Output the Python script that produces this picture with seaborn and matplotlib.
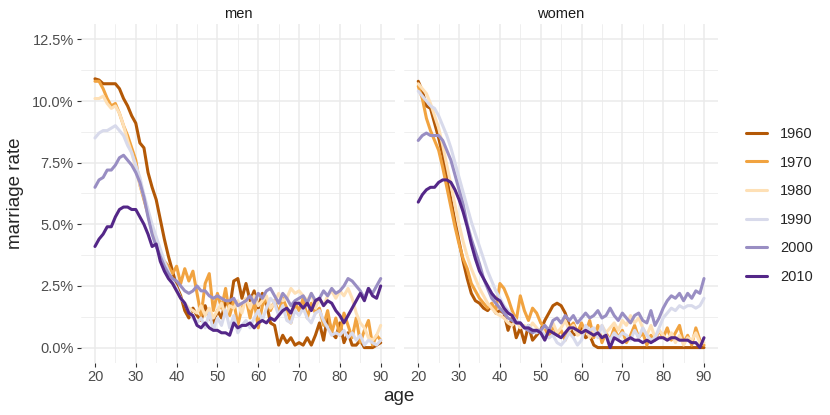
import pandas as pd
import numpy as np
import matplotlib.pyplot as plt
import seaborn as sns
from matplotlib.ticker import FuncFormatter, MultipleLocator
from matplotlib.lines import Line2D

# ----------------- data -----------------
ages = list(range(20, 91))
years = ['1960', '1970', '1980', '1990', '2000', '2010']
colors = ['#B35806', '#F1A340', '#FEE0B6', '#D8DAEB', '#998EC3', '#542788']

# marriage rate in percent, one value per age 20..90
men_1960 = [10.9, 10.85, 10.7, 10.7, 10.7, 10.7, 10.5, 10.1, 9.8, 9.4,
            9.1, 8.3, 8.1, 7.1, 6.5, 6.0, 5.2, 4.4, 3.7, 3.1,
            2.5, 2.1, 1.5, 1.2, 1.6, 1.3, 1.1, 1.7, 1.2, 1.0,
            1.5, 1.2, 1.9, 1.6, 2.7, 2.8, 2.0, 2.6, 1.9, 2.3,
            1.6, 2.2, 1.8, 1.0, 0.9, 0.1, 0.5, 0.2, 0.4, 0.1,
            0.2, 0.1, 0.4, 0.1, 0.5, 1.0, 0.3, 1.3, 0.6, 0.4,
            1.0, 0.2, 0.6, 0.1, 0.1, 0.3, 0.0, 0.0, 0.0, 0.1,
            0.2]
men_1970 = [10.8, 10.8, 10.5, 10.1, 9.8, 9.9, 9.5, 9.0, 8.6, 8.1,
            7.6, 6.6, 6.0, 5.4, 4.7, 4.2, 3.8, 3.5, 3.3, 3.0,
            3.3, 2.6, 3.2, 2.7, 3.1, 2.2, 1.3, 2.6, 3.0, 1.5,
            2.2, 1.6, 2.4, 1.3, 1.9, 0.9, 1.6, 2.0, 1.2, 1.9,
            0.8, 1.7, 2.0, 1.5, 1.9, 1.4, 2.0, 1.6, 1.0, 1.8,
            1.5, 2.0, 1.2, 1.8, 1.4, 1.6, 0.9, 1.5, 0.6, 1.2,
            0.5, 1.4, 0.9, 0.4, 1.2, 0.2, 0.7, 1.1, 0.1, 0.5,
            0.3]
men_1980 = [10.1, 10.1, 10.2, 9.9, 9.7, 9.8, 9.5, 9.0, 8.4, 7.9,
            7.3, 6.6, 6.1, 5.5, 4.9, 4.4, 3.9, 3.4, 3.0, 2.6,
            2.3, 2.0, 1.8, 1.6, 1.5, 1.4, 1.7, 1.3, 1.6, 1.2,
            1.5, 1.8, 1.3, 1.7, 1.6, 1.9, 1.4, 2.0, 1.6, 2.1,
            1.7, 1.9, 2.1, 1.6, 1.8, 2.2, 1.9, 2.0, 2.4, 2.2,
            2.3, 2.1, 1.9, 2.2, 1.6, 2.0, 1.7, 2.1, 2.3, 2.0,
            2.3, 2.1, 2.4, 2.0, 1.4, 1.0, 0.8, 0.4, 0.3, 0.5,
            0.9]
men_1990 = [8.5, 8.7, 8.8, 8.8, 8.9, 9.0, 8.8, 8.6, 8.2, 7.9,
            7.4, 6.9, 6.2, 5.6, 5.0, 4.5, 4.0, 3.5, 3.1, 2.7,
            2.4, 2.0, 1.8, 1.5, 1.2, 1.0, 1.2, 0.8, 1.4, 0.7,
            1.2, 0.9, 1.5, 0.8, 1.3, 0.6, 0.9, 1.1, 0.8, 1.2,
            1.5, 1.1, 1.6, 2.0, 1.8, 1.3, 1.7, 1.1, 1.0, 1.5,
            1.3, 1.6, 1.2, 1.0, 1.4, 1.5, 1.1, 0.8, 0.5, 0.6,
            0.5, 0.7, 0.4, 0.6, 0.3, 0.5, 0.1, 0.3, 0.2, 0.1,
            0.3]
men_2000 = [6.5, 6.8, 6.9, 7.2, 7.2, 7.4, 7.7, 7.8, 7.6, 7.4,
            7.1, 6.7, 6.1, 5.3, 4.6, 4.1, 3.7, 3.3, 3.0, 2.8,
            2.7, 2.5, 2.3, 2.2, 2.3, 2.5, 2.3, 2.3, 2.1, 2.0,
            2.1, 2.0, 1.9, 1.9, 2.0, 1.7, 1.8, 1.9, 2.1, 1.8,
            2.2, 2.0, 2.3, 2.4, 2.1, 1.8, 2.2, 2.0, 1.7, 1.9,
            2.0, 2.1, 1.8, 2.2, 1.9, 2.0, 2.3, 2.1, 2.4, 2.2,
            2.3, 2.5, 2.8, 2.7, 2.5, 2.3, 2.0, 2.4, 2.2, 2.5,
            2.8]
men_2010 = [4.1, 4.4, 4.6, 4.9, 4.9, 5.3, 5.6, 5.7, 5.7, 5.6,
            5.6, 5.3, 5.0, 4.6, 4.1, 4.2, 3.5, 3.1, 2.8, 2.6,
            2.3, 2.0, 1.8, 1.4, 1.3, 0.9, 0.8, 1.0, 0.8, 0.7,
            0.7, 0.6, 0.6, 0.5, 1.0, 0.8, 0.9, 0.9, 1.0, 0.8,
            1.0, 1.1, 1.0, 1.2, 1.1, 1.3, 1.5, 1.6, 1.4, 1.8,
            1.8, 1.6, 1.8, 1.5, 1.9, 2.0, 1.7, 1.9, 1.8, 1.5,
            1.3, 1.0, 1.3, 1.6, 1.9, 2.2, 1.9, 2.4, 2.1, 2.0,
            2.5]

women_1960 = [10.8, 10.4, 9.8, 9.7, 9.1, 8.5, 7.8, 6.9, 6.0, 5.1,
              4.3, 3.5, 2.8, 2.2, 1.9, 1.8, 1.6, 1.5, 1.7, 1.4,
              1.5, 1.4, 0.7, 1.2, 0.4, 0.8, 0.2, 0.9, 0.3, 0.5,
              0.7, 1.1, 1.4, 1.7, 1.8, 1.7, 1.4, 0.9, 0.5, 0.6,
              0.8, 0.4, 0.5, 0.1, 0.0, 0.0, 0.0, 0.0, 0.0, 0.0,
              0.0, 0.0, 0.0, 0.0, 0.0, 0.0, 0.0, 0.0, 0.0, 0.0,
              0.0, 0.0, 0.0, 0.0, 0.0, 0.0, 0.0, 0.0, 0.0, 0.0,
              0.0]
women_1970 = [10.6, 10.1, 9.3, 8.8, 8.4, 8.0, 7.3, 6.5, 5.7, 4.9,
              4.2, 3.6, 3.2, 2.6, 2.3, 2.0, 1.8, 1.6, 1.8, 1.5,
              2.6, 2.4, 2.0, 1.5, 1.1, 2.1, 1.5, 1.1, 1.6, 1.4,
              1.0, 0.8, 0.4, 0.9, 0.5, 0.7, 0.3, 0.8, 1.0, 0.6,
              1.0, 0.6, 1.1, 0.4, 0.9, 0.2, 0.6, 0.3, 0.8, 0.4,
              0.7, 0.2, 0.5, 0.9, 0.4, 0.6, 0.1, 0.5, 0.3, 0.7,
              0.4, 0.8, 0.3, 0.6, 0.9, 0.2, 0.5, 0.1, 0.8, 0.3,
              0.1]
women_1980 = [10.7, 10.5, 10.3, 9.9, 9.4, 8.9, 8.2, 7.4, 6.6, 5.8,
              5.0, 4.3, 3.7, 3.2, 2.8, 2.4, 2.1, 1.8, 1.6, 1.4,
              1.3, 1.2, 1.0, 0.9, 1.1, 0.8, 0.9, 0.7, 1.0, 0.8,
              0.6, 0.9, 0.7, 1.0, 0.6, 0.8, 1.1, 0.7, 0.9, 0.5,
              0.6, 0.8, 0.4, 0.7, 0.5, 0.9, 0.6, 0.8, 1.0, 0.7,
              1.1, 0.9, 1.3, 1.0, 1.2, 0.8, 0.5, 0.9, 0.4, 0.7,
              0.5, 0.3, 0.6, 0.2, 0.5, 0.1, 0.4, 0.3, 0.6, 0.2,
              0.2]
women_1990 = [10.4, 10.2, 10.0, 9.8, 9.7, 9.4, 9.0, 8.6, 8.1, 7.5,
              6.9, 6.3, 5.7, 5.1, 4.6, 4.1, 3.6, 3.1, 2.7, 2.3,
              2.0, 1.7, 1.5, 1.3, 1.1, 1.0, 0.8, 0.9, 0.7, 0.6,
              0.7, 0.5, 0.4, 0.5, 0.2, 0.1, 0.3, 0.6, 0.4, 0.1,
              0.3, 0.9, 0.7, 0.8, 0.4, 0.9, 0.5, 0.3, 0.6, 0.4,
              0.6, 0.5, 0.3, 0.7, 0.4, 0.8, 0.5, 0.3, 0.4, 0.8,
              1.2, 1.4, 1.6, 1.5, 1.7, 1.6, 1.7, 1.7, 1.6, 1.7,
              2.0]
women_2000 = [8.4, 8.6, 8.7, 8.6, 8.6, 8.6, 8.4, 8.0, 7.6, 7.0,
              6.4, 5.8, 5.0, 4.4, 3.9, 3.4, 2.8, 2.4, 2.0, 1.8,
              1.6, 1.4, 1.2, 1.1, 1.0, 1.0, 0.8, 0.7, 0.6, 0.7,
              0.7, 0.9, 0.7, 1.1, 1.2, 1.0, 1.3, 1.1, 1.3, 1.0,
              1.2, 1.4, 1.2, 1.3, 1.5, 1.2, 1.3, 1.6, 1.3, 1.1,
              1.4, 1.2, 1.0, 1.3, 1.4, 1.1, 1.0, 1.5, 0.9, 1.2,
              1.6, 1.9, 2.1, 2.0, 2.2, 1.9, 2.2, 2.0, 2.3, 2.2,
              2.8]
women_2010 = [5.9, 6.2, 6.4, 6.5, 6.5, 6.7, 6.8, 6.8, 6.7, 6.4,
              6.0, 5.5, 4.9, 4.2, 3.6, 3.1, 2.8, 2.5, 2.2, 2.0,
              1.9, 1.6, 1.4, 1.3, 1.0, 1.0, 0.8, 0.8, 0.7, 0.7,
              0.6, 0.3, 0.7, 0.6, 0.5, 0.4, 0.6, 0.8, 0.8, 0.7,
              0.6, 0.7, 0.6, 0.5, 0.6, 0.4, 0.5, 0.0, 0.4, 0.3,
              0.2, 0.3, 0.4, 0.3, 0.3, 0.2, 0.3, 0.2, 0.3, 0.4,
              0.4, 0.3, 0.4, 0.4, 0.3, 0.3, 0.3, 0.2, 0.2, 0.0,
              0.4]

men = [men_1960, men_1970, men_1980, men_1990, men_2000, men_2010]
women = [women_1960, women_1970, women_1980, women_1990, women_2000, women_2010]

# ----------------- long table -----------------
rows = []
for sex, series in [('men', men), ('women', women)]:
    for year, vals in zip(years, series):
        for a, v in zip(ages, vals):
            rows.append({'sex': sex, 'year': year, 'age': a, 'rate': v})
df = pd.DataFrame(rows)

# ----------------- plot -----------------
sns.set_theme(style='white')
plt.rcParams['font.family'] = ['Liberation Sans', 'DejaVu Sans']

fig = plt.figure(figsize=(8.3, 4.15), dpi=100)
ax_m = fig.add_axes([0.0972, 0.1253, 0.3787, 0.817])
ax_w = fig.add_axes([0.4867, 0.1253, 0.3787, 0.817])

palette = dict(zip(years, colors))

for ax, sex in [(ax_m, 'men'), (ax_w, 'women')]:
    sns.lineplot(data=df[df['sex'] == sex], x='age', y='rate', hue='year',
                 hue_order=years, palette=palette, linewidth=2.2,
                 legend=False, ax=ax)
    ax.set_xlim(16.5, 93.5)
    ax.set_ylim(-0.625, 13.125)
    ax.xaxis.set_major_locator(MultipleLocator(10))
    ax.xaxis.set_minor_locator(MultipleLocator(5))
    ax.yaxis.set_major_locator(MultipleLocator(2.5))
    ax.yaxis.set_minor_locator(MultipleLocator(1.25))
    ax.grid(which='major', color='#EBEBEB', linewidth=1.1)
    ax.grid(which='minor', color='#EBEBEB', linewidth=0.55)
    ax.set_axisbelow(True)
    for s in ax.spines.values():
        s.set_visible(False)
    ax.tick_params(axis='both', which='major', length=3, width=0.8,
                   color='#333333', labelcolor='#4D4D4D', labelsize=10.5,
                   pad=2, bottom=True, left=True)
    ax.tick_params(which='minor', length=0)
    ax.set_xlabel('')
    ax.set_ylabel('')
    ax.set_title(sex, fontsize=10.5, color='#1A1A1A', pad=4)

ax_m.yaxis.set_major_formatter(FuncFormatter(lambda v, p: f'{v:.1f}%'))
ax_w.tick_params(axis='y', left=False, labelleft=False)

fig.text(0.48, 0.025, 'age', ha='center', va='bottom', fontsize=13.5)
fig.text(0.008, 0.535, 'marriage rate', rotation=90, ha='left',
         va='center', fontsize=13.5)

handles = [Line2D([0], [0], color=c, lw=2.2) for c in colors]
fig.legend(handles, years, loc='center left', bbox_to_anchor=(0.883, 0.505),
           frameon=False, fontsize=10.5, handlelength=1.45, labelspacing=1.0,
           handletextpad=0.9)

fig.savefig('out.png', dpi=100)
